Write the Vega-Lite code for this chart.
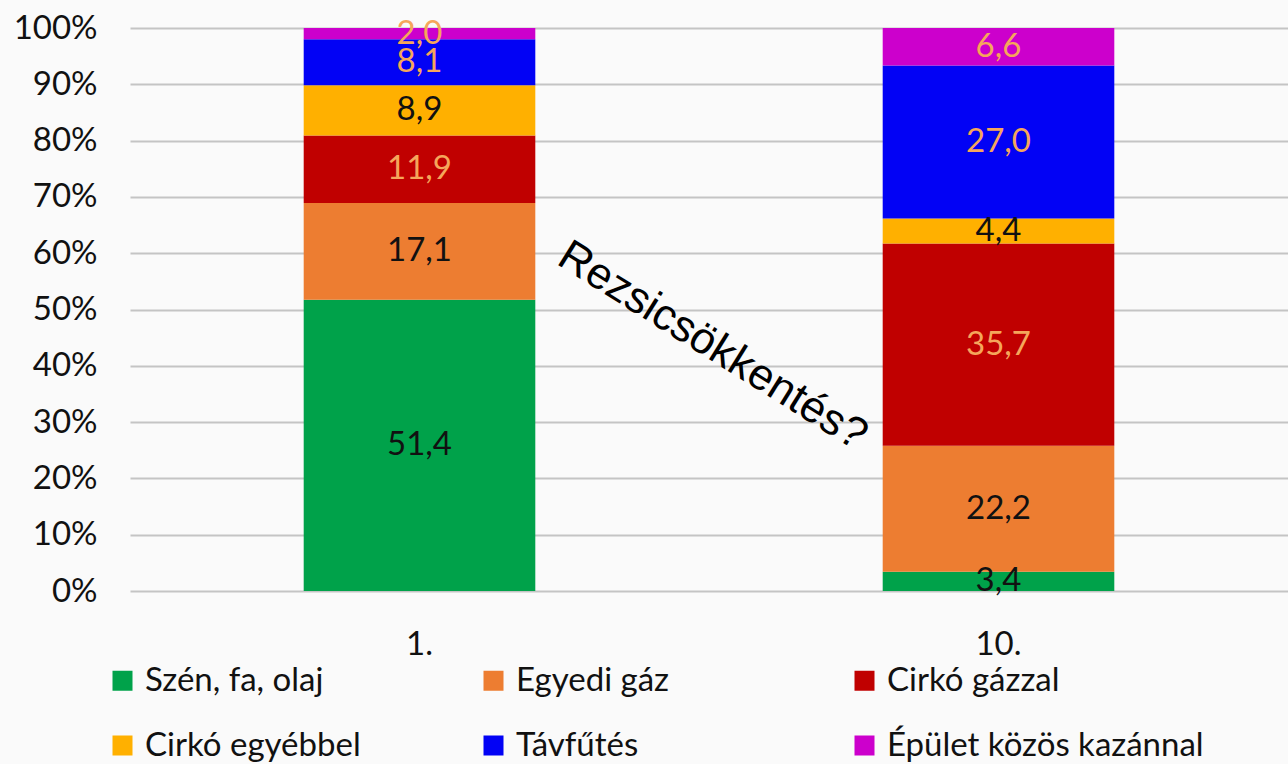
{
  "$schema": "https://vega.github.io/schema/vega-lite/v6.json",
  "autosize": {"type": "none"},
  "width": 1158,
  "height": 563,
  "padding": {"left": 130, "top": 28, "right": 0, "bottom": 173},
  "background": "#FAFAFA",
  "config": {
    "view": {"stroke": null},
    "font": "Lato",
    "locale": {"number": {"decimal": ",", "thousands": " ", "grouping": [3], "currency": ["", " Ft"]}}
  },
  "data": {"values": [
    {"cat": "1.", "series": "Szén, fa, olaj", "v": 51.4, "rank": 1},
    {"cat": "1.", "series": "Egyedi gáz", "v": 17.1, "rank": 2},
    {"cat": "1.", "series": "Cirkó gázzal", "v": 11.9, "rank": 3},
    {"cat": "1.", "series": "Cirkó egyébbel", "v": 8.9, "rank": 4},
    {"cat": "1.", "series": "Távfűtés", "v": 8.1, "rank": 5},
    {"cat": "1.", "series": "Épület közös kazánnal", "v": 2.0, "rank": 6},
    {"cat": "10.", "series": "Szén, fa, olaj", "v": 3.4, "rank": 1},
    {"cat": "10.", "series": "Egyedi gáz", "v": 22.2, "rank": 2},
    {"cat": "10.", "series": "Cirkó gázzal", "v": 35.7, "rank": 3},
    {"cat": "10.", "series": "Cirkó egyébbel", "v": 4.4, "rank": 4},
    {"cat": "10.", "series": "Távfűtés", "v": 27.0, "rank": 5},
    {"cat": "10.", "series": "Épület közös kazánnal", "v": 6.6, "rank": 6}
  ]},
  "layer": [
    {
      "transform": [
        {"stack": "v", "groupby": ["cat"], "sort": [{"field": "rank", "order": "ascending"}], "as": ["v0", "v1"], "offset": "normalize"},
        {"calculate": "(datum.v0 + datum.v1) / 2", "as": "vmid"}
      ],
      "encoding": {
        "x": {
          "field": "cat", "type": "nominal", "sort": ["1.", "10."],
          "scale": {"paddingInner": 0.6, "paddingOuter": 0.3},
          "axis": {"title": null, "domain": false, "ticks": false, "labelAngle": 0, "labelFontSize": 33, "labelPadding": 37, "labelColor": "#111111", "labelFont": "Lato"}
        }
      },
      "layer": [
        {
          "mark": {"type": "bar"},
          "encoding": {
            "y": {
              "field": "v1", "type": "quantitative",
              "scale": {"domain": [0, 1], "nice": false},
              "axis": {"title": null, "format": ".0%", "values": [0, 0.1, 0.2, 0.3, 0.4, 0.5, 0.6, 0.7, 0.8, 0.9, 1], "domain": false, "ticks": false, "labelFontSize": 33, "labelPadding": 33, "labelColor": "#111111", "gridColor": "#C4C4C4", "gridWidth": 2, "labelFont": "Lato"}
            },
            "y2": {"field": "v0"},
            "color": {
              "field": "series", "type": "nominal",
              "scale": {
                "domain": ["Szén, fa, olaj", "Egyedi gáz", "Cirkó gázzal", "Cirkó egyébbel", "Távfűtés", "Épület közös kazánnal"],
                "range": ["#00A24A", "#ED7D31", "#C00000", "#FFB000", "#0202F5", "#CC00CC"]
              },
              "legend": {
                "title": null, "orient": "none", "legendX": -24, "legendY": 636,
                "direction": "horizontal", "columns": 3, "gridAlign": "all", "padding": 0,
                "symbolType": "square", "symbolSize": 400, "symbolStrokeWidth": 0, "symbolOpacity": 1,
                "labelFontSize": 33, "labelFont": "Lato", "labelColor": "#111111", "labelOffset": 6,
                "columnPadding": 15, "rowPadding": 31, "labelLimit": 500
              }
            }
          }
        },
        {
          "mark": {"type": "text", "fontSize": 33, "font": "Lato", "baseline": "middle", "align": "center"},
          "encoding": {
            "y": {"field": "vmid", "type": "quantitative"},
            "text": {"field": "v", "type": "quantitative", "format": ".1f"},
            "color": {
              "condition": {"test": "indexof(['Cirkó gázzal','Távfűtés','Épület közös kazánnal'], datum.series) >= 0", "value": "#F5A65B"},
              "value": "#111111"
            }
          }
        }
      ]
    },
    {
      "data": {"values": [{"t": "Rezsicsökkentés?", "px": 0.503, "py": 0.435}]},
      "mark": {"type": "text", "font": "Liberation Sans", "fontSize": 44, "angle": 32, "align": "center", "baseline": "middle", "color": "#000000"},
      "encoding": {
        "x": {"field": "px", "type": "quantitative", "scale": {"domain": [0, 1], "nice": false, "zero": false}, "axis": null},
        "y": {"field": "py", "type": "quantitative"},
        "text": {"field": "t", "type": "nominal"}
      }
    }
  ],
  "resolve": {"scale": {"x": "independent", "color": "independent"}}
}
